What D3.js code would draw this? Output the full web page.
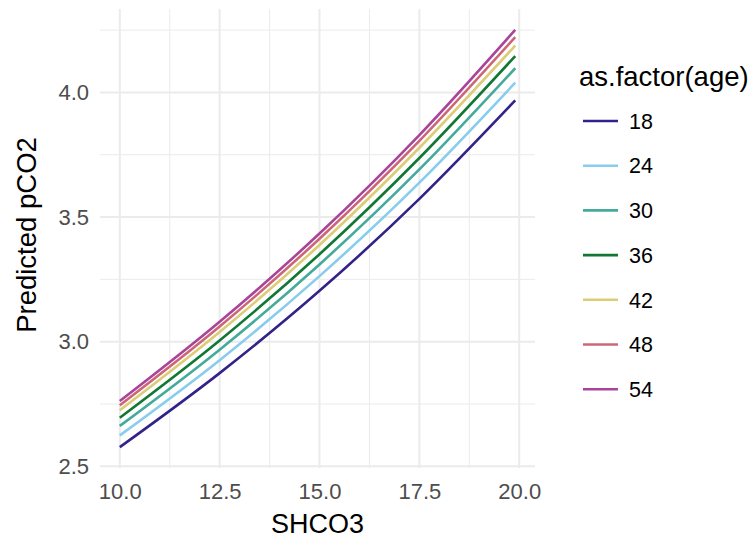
<!DOCTYPE html>
<html>
<head>
<meta charset="utf-8">
<script src="https://cdn.jsdelivr.net/npm/d3@7"></script>
<style>
  html, body { margin: 0; padding: 0; background: #fff; }
  svg { display: block; font-family: "Liberation Sans", Arial, sans-serif; }
</style>
</head>
<body>
<svg id="chart" width="755" height="538"></svg>
<script>
// SHCO3 values at which the predictions are shown
const shco3 = [10, 12.5, 15, 17.5, 19.9];

// Age groups and their predicted pCO2 curves
const ages = ["18", "24", "30", "36", "42", "48", "54"];
const pred18 = [2.577, 2.874, 3.204, 3.573, 3.968];
const pred24 = [2.624, 2.926, 3.263, 3.638, 4.039];
const pred30 = [2.662, 2.968, 3.310, 3.691, 4.097];
const pred36 = [2.695, 3.005, 3.351, 3.737, 4.146];
const pred42 = [2.725, 3.039, 3.388, 3.778, 4.188];
const pred48 = [2.745, 3.061, 3.413, 3.806, 4.222];
const pred54 = [2.762, 3.080, 3.434, 3.829, 4.251];
const predictions = [pred18, pred24, pred30, pred36, pred42, pred48, pred54];

const colors = ["#332288", "#88CCEE", "#44AA99", "#117733", "#DDCC77", "#CC6677", "#AA4499"];

const xTicks = [10, 12.5, 15, 17.5, 20];
const yTicks = [2.5, 3.0, 3.5, 4.0];
const xMinor = [11.25, 13.75, 16.25, 18.75];
const yMinor = [2.75, 3.25, 3.75, 4.25];

const svg = d3.select("#chart");
const panel = { left: 100, right: 535, top: 9, bottom: 468 };

// Data range padded by 5% on each side
const xExt = d3.extent(shco3);
const yExt = [d3.min(predictions, s => d3.min(s)), d3.max(predictions, s => d3.max(s))];
const xPad = (xExt[1] - xExt[0]) * 0.05;
const yPad = (yExt[1] - yExt[0]) * 0.05;

const x = d3.scaleLinear().domain([xExt[0] - xPad, xExt[1] + xPad]).range([panel.left, panel.right]);
const y = d3.scaleLinear().domain([yExt[0] - yPad, yExt[1] + yPad]).range([panel.bottom, panel.top]);

const grid = svg.append("g");
// minor grid
grid.selectAll("line.xminor").data(xMinor).join("line")
  .attr("x1", d => x(d)).attr("x2", d => x(d))
  .attr("y1", panel.top).attr("y2", panel.bottom)
  .attr("stroke", "#ebebeb").attr("stroke-width", 1);
grid.selectAll("line.yminor").data(yMinor).join("line")
  .attr("y1", d => y(d)).attr("y2", d => y(d))
  .attr("x1", panel.left).attr("x2", panel.right)
  .attr("stroke", "#ebebeb").attr("stroke-width", 1);
// major grid
grid.selectAll("line.xmajor").data(xTicks).join("line")
  .attr("x1", d => x(d)).attr("x2", d => x(d))
  .attr("y1", panel.top).attr("y2", panel.bottom)
  .attr("stroke", "#ebebeb").attr("stroke-width", 2);
grid.selectAll("line.ymajor").data(yTicks).join("line")
  .attr("y1", d => y(d)).attr("y2", d => y(d))
  .attr("x1", panel.left).attr("x2", panel.right)
  .attr("stroke", "#ebebeb").attr("stroke-width", 2);

// axes (labels only, no lines)
const xAxis = svg.append("g")
  .attr("transform", `translate(0,${panel.bottom})`)
  .call(d3.axisBottom(x).tickValues(xTicks).tickFormat(d3.format(".1f")).tickSize(0).tickPadding(12));
const yAxis = svg.append("g")
  .attr("transform", `translate(${panel.left},0)`)
  .call(d3.axisLeft(y).tickValues(yTicks).tickFormat(d3.format(".1f")).tickSize(0).tickPadding(11));
[xAxis, yAxis].forEach(a => {
  a.select(".domain").remove();
  a.selectAll("text").attr("fill", "#4d4d4d").style("font-size", "22px")
    .style("font-family", "Liberation Sans, Arial, sans-serif");
});
xAxis.selectAll("text").attr("dy", "0.85em");

// axis titles
svg.append("text").attr("x", (panel.left + panel.right) / 2).attr("y", 533)
  .attr("text-anchor", "middle").style("font-size", "27px").attr("fill", "#000").text("SHCO3");
svg.append("text").attr("transform", `translate(36,235) rotate(-90)`)
  .attr("text-anchor", "middle").style("font-size", "27.5px").attr("fill", "#000").text("Predicted pCO2");

// prediction curves
const line = d3.line().x((d, i) => x(shco3[i])).y(d => y(d)).curve(d3.curveMonotoneX);
svg.append("g").selectAll("path").data(predictions).join("path")
  .attr("d", line).attr("fill", "none")
  .attr("stroke", (d, i) => colors[i]).attr("stroke-width", 2.6);

// legend
const legend = svg.append("g");
legend.append("text").attr("x", 579).attr("y", 86).style("font-size", "27.5px").attr("fill", "#000").text("as.factor(age)");
const item = legend.selectAll("g.item").data(ages).join("g")
  .attr("transform", (d, i) => `translate(0,${121 + i * 44.7})`);
item.append("line").attr("x1", 583).attr("x2", 618).attr("y1", 0).attr("y2", 0)
  .attr("stroke", (d, i) => colors[i]).attr("stroke-width", 2.6);
item.append("text").attr("x", 629).attr("y", 0).attr("dy", "0.36em")
  .style("font-size", "21.5px").attr("fill", "#000").text(d => d);
</script>
</body>
</html>
